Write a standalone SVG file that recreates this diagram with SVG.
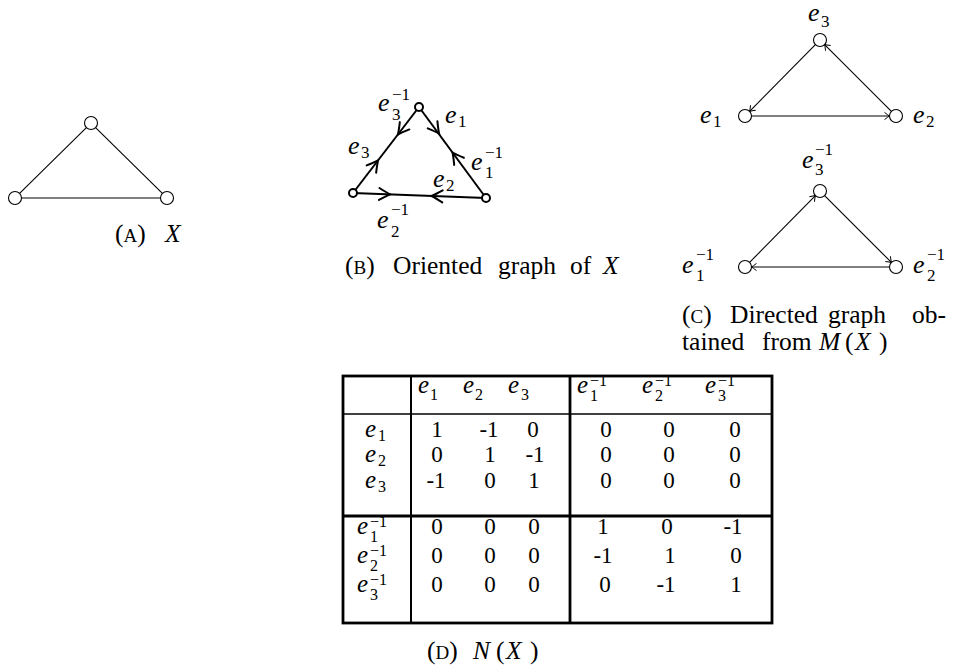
<svg xmlns="http://www.w3.org/2000/svg" xmlns:xlink="http://www.w3.org/1999/xlink" width="967" height="671" viewBox="0 0 967 671">
<style>
text{font-family:"Liberation Serif","DejaVu Serif",serif;fill:#000}
.cap{font-size:25.5px}
.sc{font-size:19px}
.it{font-style:italic}
.e{font-size:26px;font-style:italic}
.s{font-size:17px}
.te{font-size:25px;font-style:italic}
.ts{font-size:16px}
.d{font-size:23px;text-anchor:middle}
.thin{stroke:#000;stroke-width:1.1;fill:none}
.thick{stroke:#000;stroke-width:2;fill:none}
.na{fill:#fff;stroke:#000;stroke-width:1.1}
.nb{fill:#fff;stroke:#000;stroke-width:2}
.grid{stroke:#000;fill:none}
</style>
<defs>
<marker id="to" markerUnits="userSpaceOnUse" viewBox="-6 -5 8 10" markerWidth="8" markerHeight="10" refX="0" refY="0" orient="auto" overflow="visible">
<path d="M -5,-3.6 Q -1.5,-0.8 0,0 Q -1.5,0.8 -5,3.6" fill="none" stroke="#000" stroke-width="1"/>
</marker>
<path id="chev" d="M -11,-6 Q -4,-1.8 0,0 Q -4,1.8 -11,6" fill="none" stroke="#000" stroke-width="2" stroke-linecap="round"/>
</defs>

<!-- Panel A -->
<g id="a-connectors">
<line class="thin" x1="86.4" y1="127.6" x2="19.6" y2="193.4"/>
<line class="thin" x1="95.6" y1="127.6" x2="162.4" y2="193.4"/>
<line class="thin" x1="21.5" y1="198" x2="160.5" y2="198"/>
</g>
<g id="a-top"><circle class="na" cx="91" cy="123" r="6.5"/></g>
<g id="a-left"><circle class="na" cx="15" cy="198" r="6.5"/></g>
<g id="a-right"><circle class="na" cx="167" cy="198" r="6.5"/></g>
<g id="a-caption">
<text class="cap" x="115" y="242">(<tspan class="sc">A</tspan>)</text>
<text class="cap it" x="165" y="242">X</text>
</g>

<!-- Panel B -->
<g id="b-connectors">
<line class="thick" x1="353" y1="193" x2="419" y2="107"/>
<line class="thick" x1="419" y1="107" x2="486" y2="198"/>
<line class="thick" x1="353" y1="193" x2="486" y2="198"/>
<use xlink:href="#chev" transform="translate(378.1,160.3) rotate(-52.5)"/>
<use xlink:href="#chev" transform="translate(397.9,134.5) rotate(127.5)"/>
<use xlink:href="#chev" transform="translate(439.1,133.6) rotate(53.6)"/>
<use xlink:href="#chev" transform="translate(452.5,152.5) rotate(-126.4)"/>
<use xlink:href="#chev" transform="translate(390.2,194.4) rotate(2.15)"/>
<use xlink:href="#chev" transform="translate(431.5,196) rotate(182.15)"/>
</g>
<g id="b-top"><circle class="nb" cx="419" cy="107" r="4"/></g>
<g id="b-left"><circle class="nb" cx="353" cy="193" r="4"/></g>
<g id="b-right"><circle class="nb" cx="486" cy="198" r="4"/></g>
<g id="b-labels">
<text class="e" x="378" y="111">e</text><text class="s" x="392" y="100">−1</text><text class="s" x="392" y="120">3</text>
<text class="e" x="445" y="123">e</text><text class="s" x="458" y="127">1</text>
<text class="e" x="348" y="154">e</text><text class="s" x="361" y="158">3</text>
<text class="e" x="471" y="170">e</text><text class="s" x="485" y="158">−1</text><text class="s" x="485" y="178">1</text>
<text class="e" x="433" y="187">e</text><text class="s" x="446" y="191">2</text>
<text class="e" x="377" y="228">e</text><text class="s" x="391" y="215">−1</text><text class="s" x="391" y="237">2</text>
</g>
<g id="b-caption">
<text class="cap"><tspan x="345" y="274">(<tspan class="sc">B</tspan>)</tspan><tspan x="393">Oriented</tspan><tspan x="498">graph</tspan><tspan x="570">of</tspan><tspan x="603" class="it">X</tspan></text>
</g>

<!-- Panel C -->
<g id="c-connectors">
<line class="thin" x1="751.5" y1="116" x2="889.5" y2="116" marker-end="url(#to)"/>
<line class="thin" x1="891.4" y1="111.4" x2="824.6" y2="44.6" marker-end="url(#to)"/>
<line class="thin" x1="815.4" y1="44.6" x2="749.6" y2="111.4" marker-end="url(#to)"/>
<line class="thin" x1="749.6" y1="262.4" x2="815.4" y2="195.6" marker-end="url(#to)"/>
<line class="thin" x1="824.6" y1="195.6" x2="891.4" y2="262.4" marker-end="url(#to)"/>
<line class="thin" x1="889.5" y1="267" x2="751.5" y2="267" marker-end="url(#to)"/>
</g>
<g id="c-e3"><circle class="na" cx="820" cy="40" r="6.5"/><text class="e" x="808" y="21">e</text><text class="s" x="821" y="27">3</text></g>
<g id="c-e1"><circle class="na" cx="745" cy="116" r="6.5"/><text class="e" x="700" y="123">e</text><text class="s" x="713" y="127">1</text></g>
<g id="c-e2"><circle class="na" cx="896" cy="116" r="6.5"/><text class="e" x="913" y="123">e</text><text class="s" x="926" y="127">2</text></g>
<g id="c-e3inv"><circle class="na" cx="820" cy="191" r="6.5"/><text class="e" x="802" y="168">e</text><text class="s" x="815" y="155">−1</text><text class="s" x="815" y="175">3</text></g>
<g id="c-e1inv"><circle class="na" cx="745" cy="267" r="6.5"/><text class="e" x="682" y="273">e</text><text class="s" x="696" y="260">−1</text><text class="s" x="696" y="281">1</text></g>
<g id="c-e2inv"><circle class="na" cx="896" cy="267" r="6.5"/><text class="e" x="913" y="273">e</text><text class="s" x="927" y="260">−1</text><text class="s" x="927" y="281">2</text></g>
<g id="c-caption">
<text class="cap"><tspan x="682" y="323">(<tspan class="sc">C</tspan>)</tspan><tspan x="730">Directed</tspan><tspan x="828">graph</tspan><tspan x="912">ob-</tspan></text>
<text class="cap"><tspan x="682" y="350">tained</tspan><tspan x="762">from</tspan><tspan x="819" class="it">M</tspan><tspan x="845">(</tspan><tspan x="855" class="it">X</tspan><tspan x="879">)</tspan></text>
</g>

<!-- Panel D: table -->
<g id="d-table">
<rect class="grid" x="343" y="376" width="429" height="247" stroke-width="2.8"/>
<line class="grid" x1="411" y1="376" x2="411" y2="623" stroke-width="2"/>
<line class="grid" x1="570" y1="376" x2="570" y2="623" stroke-width="2.8"/>
<line class="grid" x1="343" y1="414" x2="772" y2="414" stroke-width="1.6"/>
<line class="grid" x1="343" y1="516" x2="772" y2="516" stroke-width="2.8"/>
</g>
<g id="d-header">
<text class="te" x="418" y="393">e</text><text class="ts" x="430" y="400">1</text>
<text class="te" x="463" y="393">e</text><text class="ts" x="475" y="400">2</text>
<text class="te" x="508" y="393">e</text><text class="ts" x="521" y="400">3</text>
<text class="te" x="577" y="393">e</text><text class="ts" x="590" y="386">−1</text><text class="ts" x="590" y="401">1</text>
<text class="te" x="642" y="393">e</text><text class="ts" x="655" y="386">−1</text><text class="ts" x="655" y="401">2</text>
<text class="te" x="705" y="393">e</text><text class="ts" x="718" y="386">−1</text><text class="ts" x="718" y="401">3</text>
</g>
<g id="d-rowheads">
<text class="te" x="365" y="437">e</text><text class="ts" x="378" y="441">1</text>
<text class="te" x="365" y="462">e</text><text class="ts" x="378" y="466">2</text>
<text class="te" x="365" y="488">e</text><text class="ts" x="378" y="492">3</text>
<text class="te" x="357" y="534">e</text><text class="ts" x="370" y="527">−1</text><text class="ts" x="370" y="542">1</text>
<text class="te" x="357" y="563">e</text><text class="ts" x="370" y="556">−1</text><text class="ts" x="370" y="571">2</text>
<text class="te" x="357" y="592">e</text><text class="ts" x="370" y="585">−1</text><text class="ts" x="370" y="600">3</text>
</g>
<g id="d-values">
<text class="d" x="437" y="437">1</text><text class="d" x="489" y="437">-1</text><text class="d" x="533" y="437">0</text><text class="d" x="606" y="437">0</text><text class="d" x="669" y="437">0</text><text class="d" x="735" y="437">0</text>
<text class="d" x="437" y="462">0</text><text class="d" x="490" y="462">1</text><text class="d" x="535" y="462">-1</text><text class="d" x="606" y="462">0</text><text class="d" x="669" y="462">0</text><text class="d" x="735" y="462">0</text>
<text class="d" x="436" y="488">-1</text><text class="d" x="490" y="488">0</text><text class="d" x="534" y="488">1</text><text class="d" x="606" y="488">0</text><text class="d" x="669" y="488">0</text><text class="d" x="735" y="488">0</text>
<text class="d" x="437" y="534">0</text><text class="d" x="490" y="534">0</text><text class="d" x="534" y="534">0</text><text class="d" x="603" y="534">1</text><text class="d" x="667" y="534">0</text><text class="d" x="733" y="534">-1</text>
<text class="d" x="437" y="563">0</text><text class="d" x="490" y="563">0</text><text class="d" x="534" y="563">0</text><text class="d" x="603" y="563">-1</text><text class="d" x="670" y="563">1</text><text class="d" x="736" y="563">0</text>
<text class="d" x="437" y="592">0</text><text class="d" x="490" y="592">0</text><text class="d" x="534" y="592">0</text><text class="d" x="605" y="592">0</text><text class="d" x="666" y="592">-1</text><text class="d" x="736" y="592">1</text>
</g>
<g id="d-caption">
<text class="cap" x="427" y="659">(<tspan class="sc">D</tspan>)</text>
<text class="cap"><tspan x="473" y="659" class="it">N</tspan><tspan x="496">(</tspan><tspan x="506" class="it">X</tspan><tspan x="530">)</tspan></text>
</g>
</svg>
